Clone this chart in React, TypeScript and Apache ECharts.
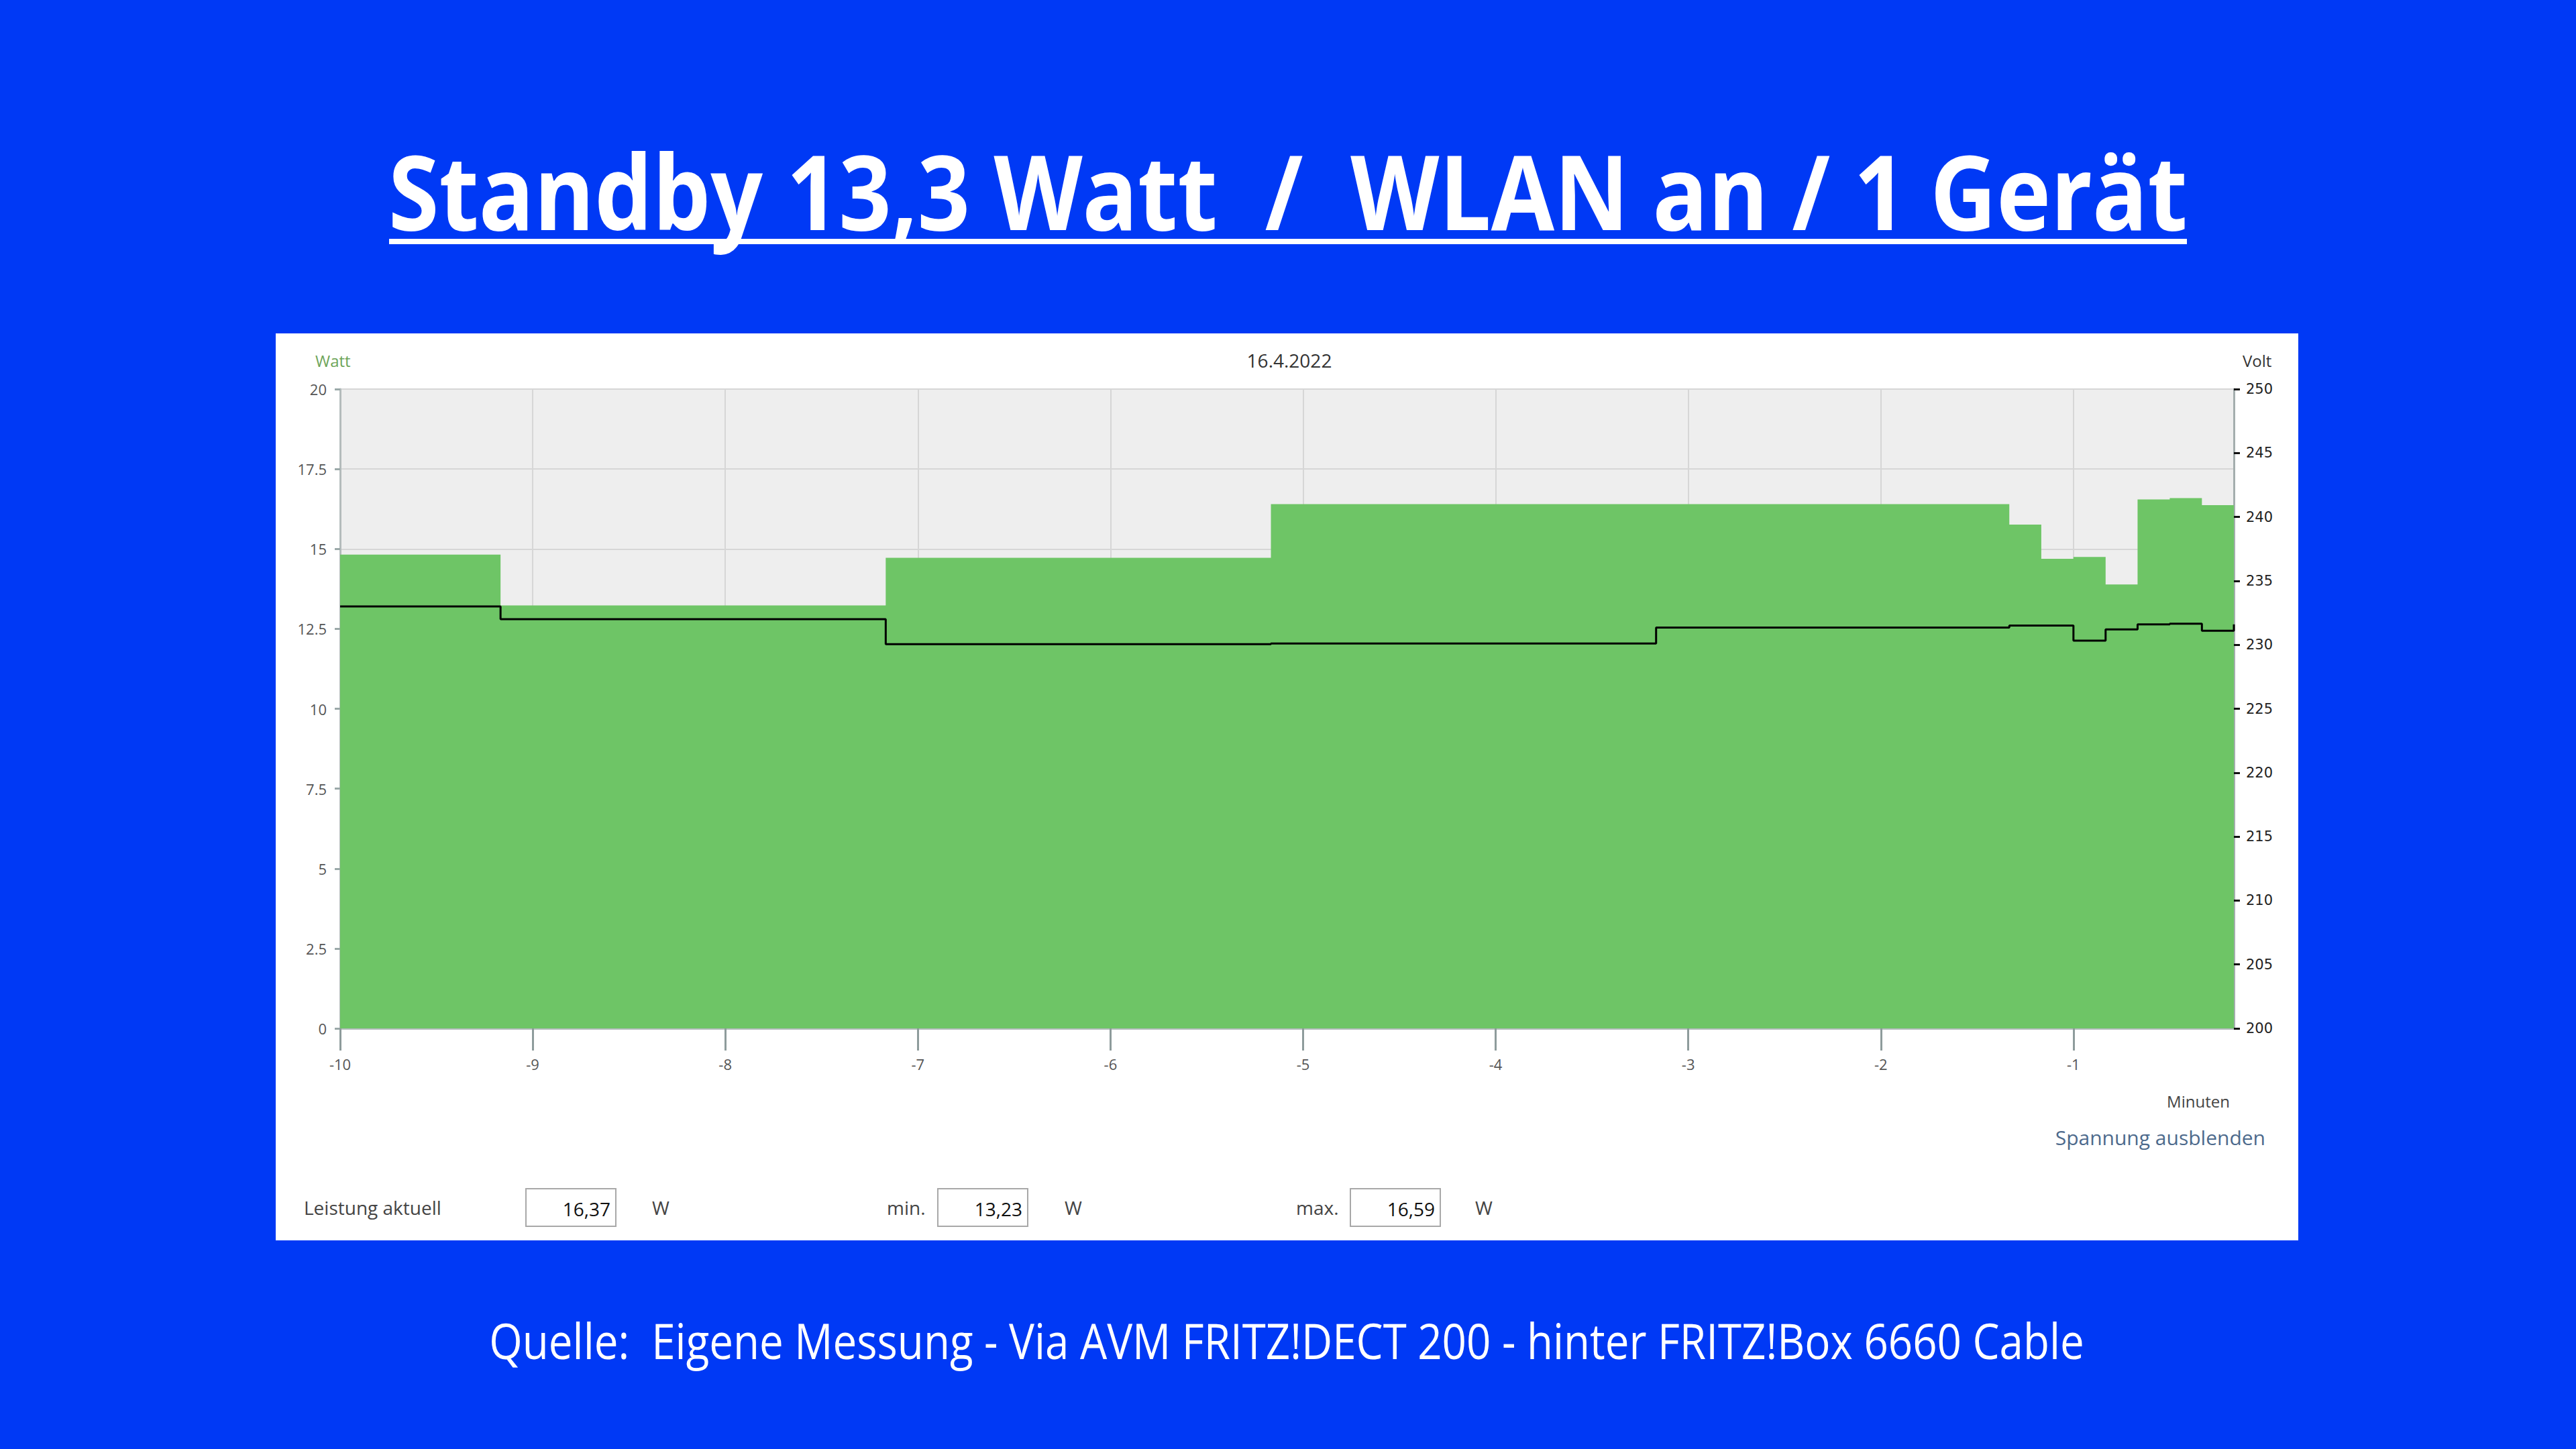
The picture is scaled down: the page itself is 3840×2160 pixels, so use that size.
import React, { useEffect, useRef } from "react";
import * as echarts from "echarts";

// ---- data ----
const powerStarts = [-10, -9.167, -7.167, -5.167, -1.333, -1.167, -1.0, -0.833, -0.667, -0.5, -0.333];
const powerValues = [14.82, 13.23, 14.72, 16.4, 15.76, 14.69, 14.75, 13.89, 16.55, 16.59, 16.37];
const voltStarts = [-10, -9.167, -7.167, -5.167, -3.167, -1.333, -1.0, -0.833, -0.667, -0.5, -0.333];
const voltValues = [233.0, 232.0, 230.05, 230.1, 231.35, 231.5, 230.33, 231.2, 231.6, 231.65, 231.1];
const seriesEnd = -0.167;
const voltLast = 231.6;
const minuteTicks = [-10, -9, -8, -7, -6, -5, -4, -3, -2, -1];

const titleText = "Standby 13,3 Watt  /  WLAN an / 1 Gerät";
const sourceText = "Quelle:  Eigene Messung - Via AVM FRITZ!DECT 200 - hinter FRITZ!Box 6660 Cable";
const chartDate = "16.4.2022";
const leftAxisName = "Watt";
const rightAxisName = "Volt";
const xAxisName = "Minuten";
const toggleText = "Spannung ausblenden";
const readingLabels = ["Leistung aktuell", "min.", "max."];
const readingValues = ["16,37", "13,23", "16,59"];
const readingUnit = "W";

const BLUE = "#0039f5";
const GREEN = "#6ec566";
const FONT = "'Open Sans', 'Noto Sans', sans-serif";

export default function App() {
  const ref = useRef<HTMLDivElement>(null);
  useEffect(() => {
    if (!ref.current) return;
    const chart = echarts.init(ref.current, undefined, { renderer: "svg" });

    const powerData = powerStarts.map((x, i) => [x, powerValues[i]]);
    powerData.push([seriesEnd, powerValues[powerValues.length - 1]]);
    const voltData = voltStarts.map((x, i) => [x, voltValues[i]]);
    voltData.push([seriesEnd, voltLast]);

    const gridL = 507, gridT = 580, gridW = 2823, gridH = 953;

    const readingLabelX = [453, 1322, 1932];
    const boxX = [784, 1398, 2013];
    const unitX = [972, 1587, 2199];
    const rowY = 1800;

    const readingGraphics: any[] = [];
    readingLabels.forEach((lab, i) => {
      readingGraphics.push({
        type: "text", x: readingLabelX[i], y: rowY,
        style: { text: lab, fill: "#444", font: `28px ${FONT}`, align: "left", verticalAlign: "middle" },
      });
      readingGraphics.push({
        type: "rect", shape: { x: boxX[i], y: rowY - 28, width: 134, height: 56 },
        style: { fill: "#fff", stroke: "#a8a8a8", lineWidth: 2 },
      });
      readingGraphics.push({
        type: "text", x: boxX[i] + 126, y: rowY + 2,
        style: { text: readingValues[i], fill: "#111", font: `28px ${FONT}`, align: "right", verticalAlign: "middle" },
      });
      readingGraphics.push({
        type: "text", x: unitX[i], y: rowY,
        style: { text: readingUnit, fill: "#444", font: `28px ${FONT}`, align: "left", verticalAlign: "middle" },
      });
    });

    const option: any = {
      animation: false,
      backgroundColor: BLUE,
      textStyle: { fontFamily: FONT },
      grid: { left: gridL, top: gridT, width: gridW, height: gridH, show: false },
      xAxis: {
        type: "value", min: -10, max: seriesEnd, interval: 1,
        axisLine: { show: true, onZero: false, lineStyle: { color: "#b4bcbc", width: 3 } },
        axisTick: { show: true, length: 33, lineStyle: { color: "#8e9c9c", width: 3 }, customValues: minuteTicks },
        axisLabel: { color: "#555", fontSize: 22, margin: 42, customValues: minuteTicks, fontFamily: FONT },
        splitLine: { show: true, lineStyle: { color: "#d6d6d6", width: 2 } },
      },
      yAxis: [
        {
          type: "value", min: 0, max: 20, interval: 2.5, position: "left",
          axisLine: { show: true, lineStyle: { color: "#b4bcbc", width: 3 } },
          axisTick: { show: true, length: 8, lineStyle: { color: "#9aa8a8", width: 3 } },
          axisLabel: { color: "#555", fontSize: 22, margin: 20, fontFamily: FONT },
          splitLine: { show: true, lineStyle: { color: "#d6d6d6", width: 2 } },
        },
        {
          type: "value", min: 200, max: 250, interval: 5, position: "right",
          axisLine: { show: true, lineStyle: { color: "#a4aeae", width: 3 } },
          axisTick: { show: true, length: 9, lineStyle: { color: "#111", width: 3 } },
          axisLabel: { color: "#222", fontSize: 21, margin: 18, fontFamily: "'DejaVu Sans', sans-serif" },
          splitLine: { show: false },
        },
      ],
      series: [
        {
          type: "line", name: "Leistung", data: powerData, step: "end", yAxisIndex: 0,
          symbol: "none", lineStyle: { width: 0, color: GREEN }, itemStyle: { color: GREEN },
          areaStyle: { color: GREEN, opacity: 1 }, z: 2,
        },
        {
          type: "line", name: "Spannung", data: voltData, step: "end", yAxisIndex: 1,
          symbol: "none", lineStyle: { width: 3, color: "#000" }, itemStyle: { color: "#000" }, z: 3,
        },
      ],
      graphic: [
        { type: "rect", z: -2, shape: { x: 411, y: 497, width: 3015, height: 1352 }, style: { fill: "#ffffff" } },
        { type: "rect", z: -1, shape: { x: gridL, y: gridT, width: gridW, height: gridH }, style: { fill: "#eeeeee" } },
        {
          type: "text", x: 1920, y: 283, scaleX: 0.882,
          style: { text: titleText, fill: "#fff", font: `bold 155px ${FONT}`, align: "center", verticalAlign: "middle" },
        },
        { type: "rect", shape: { x: 580, y: 356, width: 2680, height: 8 }, style: { fill: "#fff" } },
        {
          type: "text", x: 1918, y: 1998, scaleX: 0.872,
          style: { text: sourceText, fill: "#fff", font: `73px ${FONT}`, align: "center", verticalAlign: "middle" },
        },
        { type: "text", x: 470, y: 537, style: { text: leftAxisName, fill: "#6ea55a", font: `24px ${FONT}`, align: "left", verticalAlign: "middle" } },
        { type: "text", x: 1922, y: 537, style: { text: chartDate, fill: "#333", font: `28px ${FONT}`, align: "center", verticalAlign: "middle" } },
        { type: "text", x: 3343, y: 537, style: { text: rightAxisName, fill: "#333", font: `24px ${FONT}`, align: "left", verticalAlign: "middle" } },
        { type: "text", x: 3277, y: 1641, style: { text: xAxisName, fill: "#444", font: `24px ${FONT}`, align: "center", verticalAlign: "middle" } },
        { type: "text", x: 3377, y: 1695, style: { text: toggleText, fill: "#4d6a8c", font: `30px ${FONT}`, align: "right", verticalAlign: "middle" } },
        ...readingGraphics,
      ],
    };
    chart.setOption(option);
    return () => chart.dispose();
  }, []);

  return <div ref={ref} style={{ position: "absolute", left: 0, top: 0, width: 3840, height: 2160 }} />;
}
